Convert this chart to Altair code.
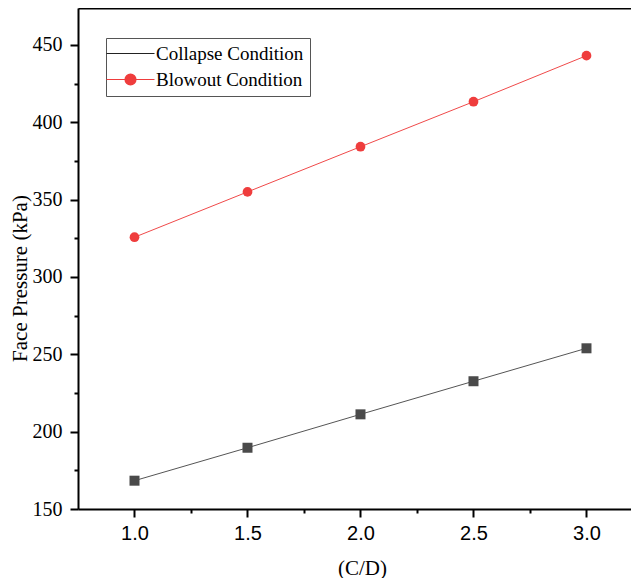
import altair as alt
import pandas as pd

# ---- data ----
cd_ratio = [1.0, 1.5, 2.0, 2.5, 3.0]
collapse = [168.3, 189.6, 211.2, 232.6, 253.9]
blowout = [325.7, 355.0, 384.2, 413.3, 443.1]
series_names = ["Collapse Condition", "Blowout Condition"]
x_tick_values = [1.0, 1.25, 1.5, 1.75, 2.0, 2.25, 2.5, 2.75, 3.0]
y_tick_values = [150, 175, 200, 225, 250, 275, 300, 325, 350, 375, 400, 425, 450]

df = pd.DataFrame({
    "cd": cd_ratio + cd_ratio,
    "p": collapse + blowout,
    "series": [series_names[0]] * len(cd_ratio) + [series_names[1]] * len(cd_ratio),
})

W, H = 553, 501
GREY = "#4a4a4a"
RED = "#ef3d3d"

x_scale = alt.Scale(domain=[0.75, 3.197], nice=False, zero=False)
y_scale = alt.Scale(domain=[150, 473.9], nice=False, zero=False)

x_axis = alt.Axis(
    values=x_tick_values,
    labelExpr="abs(datum.value*2 - round(datum.value*2)) < 0.001 ? format(datum.value, '.1f') : ''",
    tickSize={"condition": {"test": "abs(datum.value*2 - round(datum.value*2)) < 0.001", "value": 8}, "value": 4},
    labelOverlap=False,
    grid=False,
    title="(C/D)",
    titleFont="Liberation Serif", titleFontSize=21, titleFontWeight="normal", titleColor="black",
    titleX=284, titleY=48, titleBaseline="top",
    labelFont="Liberation Sans", labelFontSize=20, labelColor="black", labelPadding=6,
    domainColor="black", domainWidth=2, tickColor="black", tickWidth=2,
)
y_axis = alt.Axis(
    values=y_tick_values,
    labelExpr="datum.value % 50 === 0 ? format(datum.value, 'd') : ''",
    tickSize={"condition": {"test": "datum.value % 50 === 0", "value": 8}, "value": 4},
    labelOverlap=False,
    grid=False,
    title="Face Pressure (kPa)",
    titleFont="Liberation Serif", titleFontSize=21, titleFontWeight="normal", titleColor="black",
    titleX=-69, titleY=270, titleBaseline="top",
    labelFont="Liberation Serif", labelFontSize=20, labelColor="black", labelPadding=8,
    domainColor="black", domainWidth=2, tickColor="black", tickWidth=2,
)

# legend symbols: a plain line, and a line with a solid dot (concentric rings drawn by stroke)
P_C = "M-3,0H6.6"
_cx = 1.8
_rings = "".join(
    f"M{_cx + r:.2f},0A{r},{r},0,1,1,{_cx - r:.2f},0A{r},{r},0,1,1,{_cx + r:.2f},0"
    for r in (1.1, 0.9, 0.7, 0.5, 0.3, 0.12)
)
P_B = "M-3,0H6.6" + _rings

legend = alt.Legend(
    title=None, orient="none", legendX=28, legendY=30, padding=6,
    strokeColor="#555555", fillColor="white", cornerRadius=0,
    labelFont="Liberation Serif", labelFontSize=19, labelColor="black", labelLimit=400,
    symbolSize=100, labelOffset=25, rowPadding=6, symbolStrokeWidth=1.15,
)

base = alt.Chart(df)
collapse_line = base.transform_filter(alt.datum.series == series_names[0]).mark_line(
    strokeWidth=1, color="#555555"
).encode(
    x=alt.X("cd:Q", scale=x_scale, axis=x_axis),
    y=alt.Y("p:Q", scale=y_scale, axis=y_axis),
)
blowout_line = base.transform_filter(alt.datum.series == series_names[1]).mark_line(
    strokeWidth=1, color="#f04a4a"
).encode(
    x=alt.X("cd:Q", scale=x_scale, axis=None),
    y=alt.Y("p:Q", scale=y_scale),
)
squares = base.transform_filter(alt.datum.series == series_names[0]).mark_point(
    filled=True, size=100, opacity=1, shape="square", color=GREY
).encode(
    x=alt.X("cd:Q", scale=x_scale, axis=None),
    y=alt.Y("p:Q", scale=y_scale),
)
circles = base.transform_filter(alt.datum.series == series_names[1]).mark_point(
    filled=True, size=95, opacity=1, shape="circle", color=RED
).encode(
    x=alt.X("cd:Q", scale=x_scale, axis=None),
    y=alt.Y("p:Q", scale=y_scale),
)
# invisible layer that only carries the legend
legend_layer = base.mark_point(opacity=0, strokeWidth=1).encode(
    x=alt.X("cd:Q", scale=x_scale, axis=None),
    y=alt.Y("p:Q", scale=y_scale),
    shape=alt.Shape("series:N", scale=alt.Scale(domain=series_names, range=[P_C, P_B]), legend=legend),
    stroke=alt.Stroke("series:N", scale=alt.Scale(domain=series_names, range=["#222222", RED]), legend=legend),
)
top = base.mark_point(opacity=0).encode(
    x=alt.X("cd:Q", scale=x_scale, axis=alt.Axis(orient="top", labels=False, ticks=False, domain=True,
                                                  grid=False, title=None, domainColor="black", domainWidth=2)),
    y=alt.Y("p:Q", scale=y_scale),
)

chart = alt.layer(collapse_line, blowout_line, squares, circles, legend_layer, top).resolve_axis(
    x="independent"
).properties(
    width=W, height=H,
    autosize=alt.AutoSizeParams(type="none"),
    padding={"left": 70, "top": 0, "right": 0, "bottom": 69},
).configure_view(stroke=None)

chart.save("out.html", embed_options={"renderer": "svg", "actions": False})
